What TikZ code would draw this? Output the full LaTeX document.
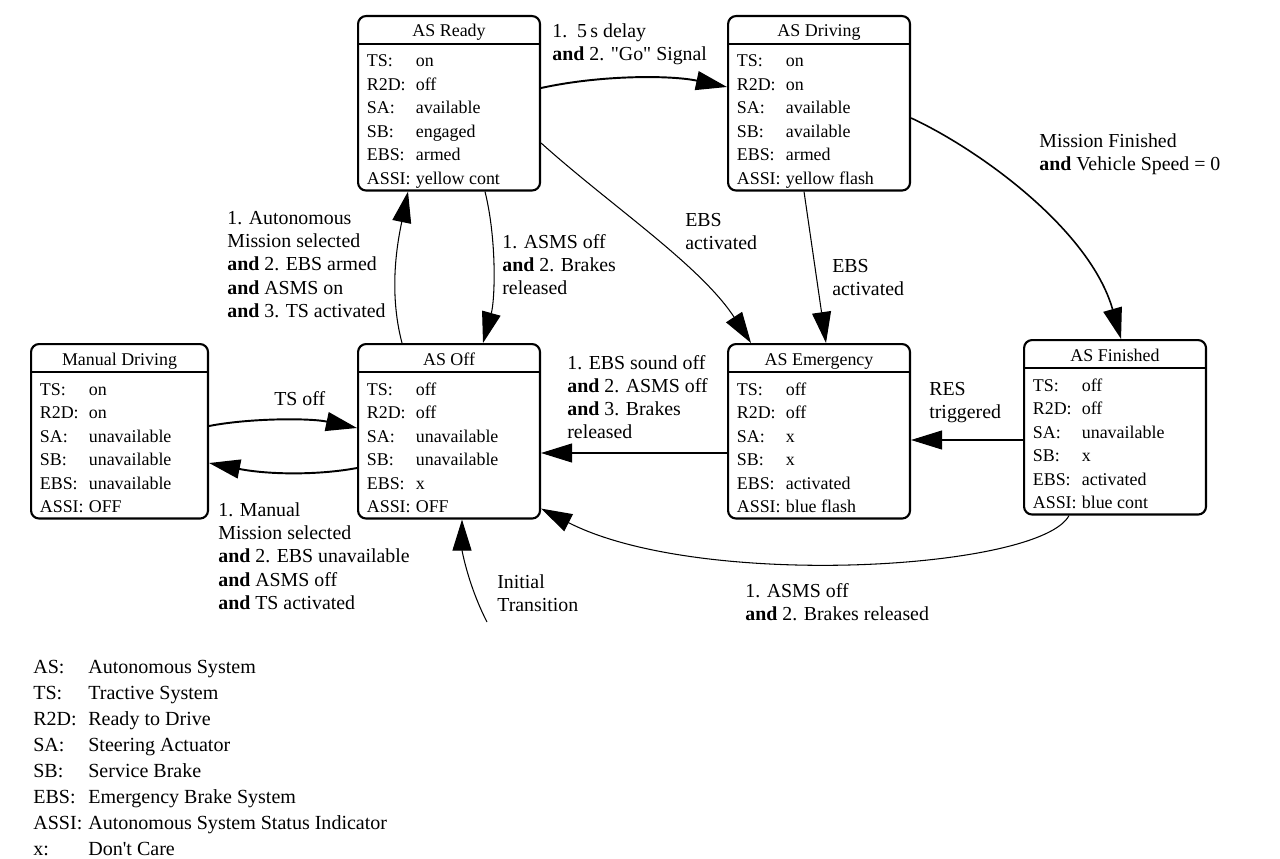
\documentclass[tikz,border=0pt]{standalone}
\usepackage{fontspec}
\setmainfont{Liberation Serif}
\usetikzlibrary{calc, arrows.meta}

\tikzset{
  stbox/.style={draw, line width=1.2pt, rounded corners=0.16cm, minimum height=3.49cm, inner sep=0pt},
  sttitle/.style={font=\fontsize{10.2}{12}\selectfont, inner sep=0pt},
  strow/.style={font=\fontsize{10.2}{12}\selectfont, inner sep=0pt},
  trans/.style={line width=0.6pt, -{Triangle[length=0.62cm,width=0.38cm]}},
  thicktrans/.style={trans, line width=1.1pt},
  lbl/.style={font=\fontsize{11.3}{13.2}\selectfont, align=left, inner sep=0pt, anchor=base west},
  legend/.style={font=\fontsize{11.4}{14}\selectfont, inner sep=0pt, anchor=base west}
}

% state box: name, top left corner, width, title, rows
\newcommand{\asstate}[5]{%
  \node[stbox, minimum width=#3, anchor=north west] (#1) at #2 {};
  \node[sttitle, anchor=base] (#1-title) at ($(#1.north)+(0,22)$) {#4};
  \draw[line width=1.2pt] ($(#1.north west)+(0,29)$) -- ($(#1.north east)+(0,29)$);
  \foreach \k/\v [count=\i] in {#5}
    \node[strow, anchor=base west] (#1-row\i) at ($(#1.north west)+(9.5,{52+23.5*(\i-1)})$) {\makebox[0.98cm][l]{\k}\v};
}

\begin{document}
\begin{tikzpicture}[x=0.02cm, y=-0.02cm, line join=round]
    \useasboundingbox (0,0) rectangle (1280,858);

    % States
    \asstate{ready}{(357,15)}{3.64cm}{AS Ready}{TS:/on, R2D:/off, SA:/available, SB:/engaged, EBS:/armed, ASSI:/yellow cont}
    \asstate{driving}{(727,15)}{3.64cm}{AS Driving}{TS:/on, R2D:/on, SA:/available, SB:/available, EBS:/armed, ASSI:/yellow flash}
    \asstate{manual}{(30,343)}{3.54cm}{Manual Driving}{TS:/on, R2D:/on, SA:/unavailable, SB:/unavailable, EBS:/unavailable, ASSI:/OFF}
    \asstate{off}{(357,343)}{3.64cm}{AS Off}{TS:/off, R2D:/off, SA:/unavailable, SB:/unavailable, EBS:/x, ASSI:/OFF}
    \asstate{emergency}{(727,343)}{3.64cm}{AS Emergency}{TS:/off, R2D:/off, SA:/x, SB:/x, EBS:/activated, ASSI:/blue flash}
    \asstate{finished}{(1023,339)}{3.64cm}{AS Finished}{TS:/off, R2D:/off, SA:/unavailable, SB:/x, EBS:/activated, ASSI:/blue cont}

    % Initial transition start
    \coordinate (init) at (487,622);

    % Transitions
    \draw[thicktrans] ($(ready.north east)+(0,73)$) .. controls (600,75) and (670,75) .. ($(driving.north west)+(0,72)$);
    \draw[trans, line width=0.9pt] ($(driving.north east)+(0,103)$) .. controls (980,150) and (1090,230) .. ($(finished.north)+(6,0)$);
    \draw[trans] ($(ready.north east)+(0,128)$) .. controls (610,205) and (700,265) .. ($(emergency.north west)+(24,0)$);
    \draw[trans] ($(driving.south west)+(77,0)$) -- ($(emergency.north west)+(99,0)$);
    \draw[trans] ($(off.north west)+(45,0)$) .. controls (388,290) and (398,240) .. ($(ready.south west)+(51,0)$);
    \draw[trans] ($(ready.south west)+(128,0)$) .. controls (497,240) and (495,300) .. ($(off.north west)+(126,0)$);
    \draw[thicktrans] ($(manual.north east)+(0,83)$) .. controls (250,418) and (310,418) .. ($(off.north west)+(0,85)$);
    \draw[thicktrans] ($(off.north west)+(0,125)$) .. controls (320,475) and (270,475) .. ($(manual.north east)+(0,120)$);
    \draw[trans] ($(emergency.north west)+(0,110)$) -- ($(off.north east)+(0,110)$);
    \draw[trans] ($(finished.north west)+(0,101)$) -- ($(emergency.north east)+(0,97)$);
    \draw[trans] ($(finished.south west)+(46,0)$) .. controls (1040,570) and (700,590) .. ($(off.south east)+(0,-11)$);
    \draw[trans] (init) .. controls (468,585) and (462,550) .. ($(off.south west)+(105,0)$);

    % Transition labels (placed at the baseline of their last line)
    \node[lbl] (l-go) at (552,60.3) {1.\ \ 5\,s delay\\\textbf{and} 2. \textquotedbl{}Go\textquotedbl{} Signal};
    \node[lbl] (l-fin) at (1039,170.3) {Mission Finished\\\textbf{and} Vehicle Speed = 0};
    \node[lbl] (l-ebs1) at (685,249.3) {EBS\\activated};
    \node[lbl] (l-ebs2) at (832,295.3) {EBS\\activated};
    \node[lbl] (l-auto) at (227,317.2) {1. Autonomous\\Mission selected\\\textbf{and} 2. EBS armed\\\textbf{and} ASMS on\\\textbf{and} 3. TS activated};
    \node[lbl] (l-asms) at (502,294.6) {1. ASMS off\\\textbf{and} 2. Brakes\\released};
    \node[lbl] (l-tsoff) at (274,405) {TS off};
    \node[lbl] (l-man) at (218,609.2) {1. Manual\\Mission selected\\\textbf{and} 2. EBS unavailable\\\textbf{and} ASMS off\\\textbf{and} TS activated};
    \node[lbl] (l-sound) at (567,438.9) {1. EBS sound off\\\textbf{and} 2. ASMS off\\\textbf{and} 3. Brakes\\released};
    \node[lbl] (l-res) at (929,418.3) {RES\\triggered};
    \node[lbl] (l-brk) at (745,620.3) {1. ASMS off\\\textbf{and} 2. Brakes released};
    \node[lbl] (l-init) at (497,611.3) {Initial\\Transition};

    % Legend
    \foreach \k/\v [count=\i] in {AS:/Autonomous System, TS:/Tractive System, R2D:/Ready to Drive, SA:/Steering Actuator, SB:/Service Brake, EBS:/Emergency Brake System, ASSI:/Autonomous System Status Indicator, x:/Don\textquotesingle t Care}
    {
        \node[legend] (key\i) at (33,{673+26*(\i-1)}) {\k};
        \node[legend] (val\i) at (88,{673+26*(\i-1)}) {\v};
    }

\end{tikzpicture}
\end{document}
